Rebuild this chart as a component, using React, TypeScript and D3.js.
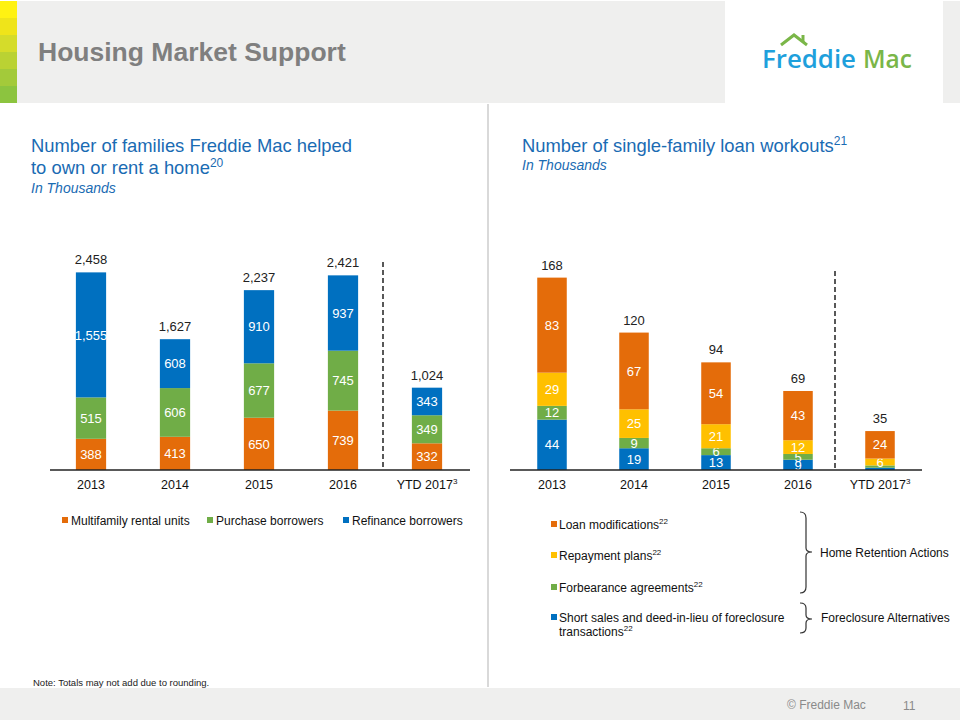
import React from "react";
import * as d3 from "d3";

// ---------- Data ----------
const leftCategories = ["2013", "2014", "2015", "2016", "YTD 2017"];
const leftMultifamily = [388, 413, 650, 739, 332];
const leftPurchase = [515, 606, 677, 745, 349];
const leftRefinance = [1555, 608, 910, 937, 343];
const leftTotals = ["2,458", "1,627", "2,237", "2,421", "1,024"];
const leftLabels = [
  ["388", "413", "650", "739", "332"],
  ["515", "606", "677", "745", "349"],
  ["1,555", "608", "910", "937", "343"],
];
const leftSeriesNames = ["Multifamily rental units", "Purchase borrowers", "Refinance borrowers"];

const rightCategories = ["2013", "2014", "2015", "2016", "YTD 2017"];
const rightShortSales = [44, 19, 13, 9, 2];
const rightForbearance = [12, 9, 6, 5, 2];
const rightRepayment = [29, 25, 21, 12, 6];
const rightLoanMods = [83, 67, 54, 43, 24];
const rightTotals = ["168", "120", "94", "69", "35"];
const rightSeriesNames = [
  "Short sales and deed-in-lieu of foreclosure",
  "Forbearance agreements",
  "Repayment plans",
  "Loan modifications",
];

const ORANGE = "#e46c0a";
const GREEN = "#70ad47";
const BLUE = "#0070c0";
const YELLOW = "#ffc000";
const TITLE_BLUE = "#1a6bb3";
const FONT = "Arial, 'Liberation Sans', sans-serif";

const stripColors = ["#fff212", "#efe41a", "#d5dc2a", "#bad233", "#a3ca3a", "#8cc43f"];

function StackedChart(props: {
  categories: string[];
  series: number[][];
  colors: string[];
  totals: string[];
  labels: string[][];
  showLabel: (v: number) => boolean;
  xRange: [number, number];
  yMax: number;
  yTop: number;
  axisX: [number, number];
  dashX: number;
  dashTop: number;
}) {
  const { categories, series, colors, totals, labels, showLabel, xRange, yMax, yTop, axisX, dashX, dashTop } = props;
  const base = 470;
  const p = 0.64;
  const x = d3.scaleBand<string>().domain(categories).range(xRange).paddingInner(p).paddingOuter(p / 2);
  const y = d3.scaleLinear().domain([0, yMax]).range([base, yTop]);
  const rows = categories.map((c, i) => {
    const o: any = { cat: c };
    series.forEach((s, k) => (o["s" + k] = s[i]));
    return o;
  });
  const keys = series.map((_, k) => "s" + k);
  const stacked = d3.stack<any>().keys(keys)(rows);
  const bw = x.bandwidth();
  return (
    <g>
      {stacked.map((layer, k) => (
        <g key={k}>
          {layer.map((d, i) => {
            const x0 = x(categories[i])!;
            const y0 = y(d[1]);
            const h = y(d[0]) - y(d[1]);
            const v = series[k][i];
            return (
              <g key={i}>
                <rect x={x0} y={y0} width={bw} height={h} fill={colors[k]} />
                {showLabel(v) && (
                  <text
                    x={x0 + bw / 2}
                    y={y0 + h / 2}
                    dy="0.36em"
                    textAnchor="middle"
                    fill="#fff"
                    fontSize={13}
                    fontFamily={FONT}
                  >
                    {labels[k][i]}
                  </text>
                )}
              </g>
            );
          })}
        </g>
      ))}
      {categories.map((c, i) => {
        const top = stacked[stacked.length - 1][i][1];
        return (
          <text
            key={"t" + i}
            x={x(c)! + bw / 2}
            y={y(top) - 8}
            textAnchor="middle"
            fill="#222"
            fontSize={13}
            fontFamily={FONT}
          >
            {totals[i]}
          </text>
        );
      })}
      <line x1={axisX[0]} x2={axisX[1]} y1={base} y2={base} stroke="#222" strokeWidth={1.5} />
      <line x1={dashX} x2={dashX} y1={dashTop} y2={base} stroke="#222" strokeWidth={1.5} strokeDasharray="5,3" />
      {categories.map((c, i) => (
        <text
          key={"c" + i}
          x={x(c)! + bw / 2}
          y={489}
          textAnchor="middle"
          fill="#111"
          fontSize={12.5}
          fontFamily={FONT}
        >
          {c}
          {c.startsWith("YTD") && (
            <tspan fontSize={8} dy={-5}>
              3
            </tspan>
          )}
        </text>
      ))}
    </g>
  );
}

export default function App() {
  const leftX = d3.scaleBand<string>().domain(leftCategories).range([49, 469]).paddingInner(0.64).paddingOuter(0.32);
  const rightX = d3.scaleBand<string>().domain(rightCategories).range([511, 921]).paddingInner(0.64).paddingOuter(0.32);
  const lmid = ((leftX("2016")! + leftX("YTD 2017")!) / 2 + leftX.bandwidth() / 2) - 2;
  const rmid = ((rightX("2016")! + rightX("YTD 2017")!) / 2 + rightX.bandwidth() / 2) - 4;

  const leftLegend = [
    { name: leftSeriesNames[0], color: ORANGE, x: 62 },
    { name: leftSeriesNames[1], color: GREEN, x: 207 },
    { name: leftSeriesNames[2], color: BLUE, x: 343 },
  ];
  const rightLegend = [
    { name: rightSeriesNames[3], color: ORANGE, y: 524 },
    { name: rightSeriesNames[2], color: YELLOW, y: 555 },
    { name: rightSeriesNames[1], color: GREEN, y: 587 },
    { name: rightSeriesNames[0], color: BLUE, y: 617 },
  ];

  return (
    <div style={{ position: "absolute", left: 0, top: 0 }}>
      <svg width={960} height={720} style={{ display: "block" }}>
        <rect x={0} y={0} width={960} height={720} fill="#fff" />
        {/* header */}
        <rect x={17} y={1} width={708} height={102} fill="#efefee" />
        <rect x={943} y={1} width={17} height={102} fill="#efefee" />
        {stripColors.map((c, i) => (
          <rect key={i} x={0} y={1 + i * 17} width={17} height={17} fill={c} />
        ))}
        <text x={38} y={61} fill="#7f7f7f" fontSize={26.5} fontWeight="bold" fontFamily={FONT}>
          Housing Market Support
        </text>
        {/* logo */}
        <path d="M781,45 L794,35 L807,45" fill="none" stroke="#7ab648" strokeWidth={3} strokeLinejoin="miter" />
        <line x1={803} x2={803} y1={35} y2={42} stroke="#7ab648" strokeWidth={3} />
        <text x={762} y={68} fill="#1ea0dc" fontSize={26} fontWeight={600} fontFamily="'Open Sans', sans-serif" textLength={94} lengthAdjust="spacingAndGlyphs">
          Freddie
        </text>
        <text x={863} y={68} fill="#7ab648" fontSize={26} fontWeight={600} fontFamily="'Open Sans', sans-serif" textLength={49} lengthAdjust="spacingAndGlyphs">
          Mac
        </text>

        {/* divider */}
        <line x1={488} x2={488} y1={104} y2={687} stroke="#d9d9d9" strokeWidth={2} />

        {/* left titles */}
        <text x={31} y={152} fill={TITLE_BLUE} fontSize={18.4} fontFamily={FONT}>
          Number of families Freddie Mac helped
        </text>
        <text x={31} y={174} fill={TITLE_BLUE} fontSize={18.4} fontFamily={FONT}>
          to own or rent a home
          <tspan fontSize={12} dy={-7}>20</tspan>
        </text>
        <text x={31} y={193} fill={TITLE_BLUE} fontSize={14} fontStyle="italic" fontFamily={FONT}>
          In Thousands
        </text>

        {/* right titles */}
        <text x={522} y={152} fill={TITLE_BLUE} fontSize={18.4} fontFamily={FONT}>
          Number of single-family loan workouts
          <tspan fontSize={12} dy={-7}>21</tspan>
        </text>
        <text x={522} y={170} fill={TITLE_BLUE} fontSize={14} fontStyle="italic" fontFamily={FONT}>
          In Thousands
        </text>

        <StackedChart
          categories={leftCategories}
          series={[leftMultifamily, leftPurchase, leftRefinance]}
          colors={[ORANGE, GREEN, BLUE]}
          totals={leftTotals}
          labels={leftLabels}
          showLabel={() => true}
          xRange={[49, 469]}
          yMax={2500}
          yTop={269}
          axisX={[50, 470]}
          dashX={lmid}
          dashTop={262}
        />
        <StackedChart
          categories={rightCategories}
          series={[rightShortSales, rightForbearance, rightRepayment, rightLoanMods]}
          colors={[BLUE, GREEN, YELLOW, ORANGE]}
          totals={rightTotals}
          labels={[rightShortSales, rightForbearance, rightRepayment, rightLoanMods].map((s) => s.map(String))}
          showLabel={(v) => v >= 5}
          xRange={[511, 921]}
          yMax={175}
          yTop={269.6}
          axisX={[510, 922]}
          dashX={rmid}
          dashTop={271}
        />

        {/* left legend */}
        {leftLegend.map((l, i) => (
          <g key={i}>
            <rect x={l.x} y={517} width={6} height={6} fill={l.color} />
            <text x={l.x + 9} y={524.5} fill="#111" fontSize={12} fontFamily={FONT}>
              {l.name}
            </text>
          </g>
        ))}

        {/* right legend */}
        {rightLegend.map((l, i) => (
          <g key={i}>
            <rect x={551} y={l.y - 3} width={6} height={6} fill={l.color} />
            <text x={559} y={l.y + 4.5} fill="#111" fontSize={12} fontFamily={FONT}>
              {l.name}
              {i < 3 && (
                <tspan fontSize={8} dy={-5}>22</tspan>
              )}
            </text>
            {i === 3 && (
              <text x={559} y={l.y + 18.5} fill="#111" fontSize={12} fontFamily={FONT}>
                transactions
                <tspan fontSize={8} dy={-5}>22</tspan>
              </text>
            )}
          </g>
        ))}

        {/* brackets */}
        <path
          d="M800,512 Q806,512 806,518 L806,548 Q806,552 812,552 Q806,552 806,556 L806,587 Q806,593 800,593"
          fill="none"
          stroke="#333"
          strokeWidth={1.2}
        />
        <text x={820} y={556.5} fill="#111" fontSize={12} fontFamily={FONT}>
          Home Retention Actions
        </text>
        <path
          d="M800,603 Q806,603 806,608 L806,615 Q806,619 812,619 Q806,619 806,623 L806,628 Q806,633 800,633"
          fill="none"
          stroke="#333"
          strokeWidth={1.2}
        />
        <text x={821} y={621.5} fill="#111" fontSize={12} fontFamily={FONT}>
          Foreclosure Alternatives
        </text>

        {/* note */}
        <text x={33} y={686} fill="#222" fontSize={9.5} fontFamily={FONT}>
          Note:  Totals may not add due to rounding.
        </text>

        {/* footer */}
        <rect x={0} y={688} width={960} height={32} fill="#efefee" />
        <text x={787} y={709} fill="#8a8a8a" fontSize={12} fontFamily={FONT}>
          © Freddie Mac
        </text>
        <text x={903} y={710} fill="#8a8a8a" fontSize={12} fontFamily={FONT}>
          11
        </text>
      </svg>
    </div>
  );
}
